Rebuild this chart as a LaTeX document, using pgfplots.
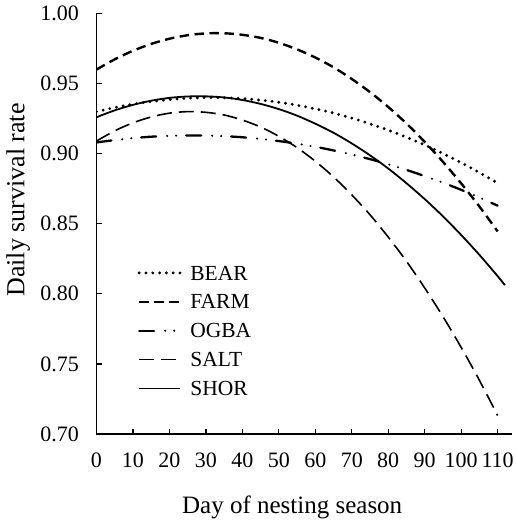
\documentclass[border=0pt]{standalone}
\usepackage{fontspec}
\setmainfont{Liberation Serif}
\usepackage{pgfplots}
\pgfplotsset{compat=1.18}
\begin{document}
\begin{tikzpicture}
\begin{axis}[
  scale only axis,
  width=415bp, height=420.5bp,
  xmin=0, xmax=113.8, ymin=0.70, ymax=1.00,
  axis x line*=bottom, axis y line*=left,
  axis line style={-, line width=1.3bp},
  xtick={0,10,...,110},
  ytick={0.70,0.75,0.80,0.85,0.90,0.95,1.00},
  yticklabels={0.70,0.75,0.80,0.85,0.90,0.95,1.00},
  tick align=inside,
  major tick length=5.5bp,
  tick style={line width=1.2bp, black},
  /pgf/number format/assume math mode=true,
  ticklabel style={font=\fontsize{22bp}{26bp}\selectfont, inner sep=0pt},
  xticklabel style={anchor=north, yshift=-19bp},
  yticklabel style={anchor=east, xshift=-17.5bp},
  xlabel={Day of nesting season},
  ylabel={Daily survival rate},
  xlabel style={font=\fontsize{25bp}{30bp}\selectfont, at={(axis description cs:0.4716,-0.1879)}, anchor=base},
  ylabel style={font=\fontsize{26bp}{31bp}\selectfont, at={(axis description cs:-0.1735,0.5565)}, anchor=base},
  legend style={draw=none, fill=none, at={(axis cs:11.26,0.8200)}, anchor=north west,
    inner sep=0pt, outer sep=0pt, column sep=8.6bp, row sep=14.7bp,
    font=\fontsize{21.5bp}{25bp}\selectfont,
    nodes={inner sep=0pt, text height=14.2bp, text depth=0bp}},
  legend cell align=left,
  legend image code/.code={\draw[#1] (0bp,0bp) -- (41bp,0bp);},
]
% BEAR
\addplot[smooth, line width=3.2bp, line cap=round, dash pattern=on 0bp off 6.8bp] coordinates {
  (0,0.9300) (5,0.9329) (10,0.9353) (15,0.9372) (20,0.9386) (25,0.9396) (30,0.9400) (35,0.9399)
  (40,0.9393) (45,0.9382) (50,0.9367) (55,0.9346) (60,0.9320) (65,0.9290) (70,0.9254) (75,0.9213)
  (80,0.9168) (85,0.9117) (90,0.9062) (95,0.9001) (100,0.8936) (105,0.8865) (110,0.8790)
};
\addlegendentry{BEAR}
% FARM
\addplot[smooth, line width=2.4bp, dash pattern=on 9.5bp off 5.5bp] coordinates {
  (0,0.9600) (5,0.9673) (10,0.9734) (15,0.9783) (20,0.9820) (25,0.9845) (30,0.9858) (35,0.9859)
  (40,0.9848) (45,0.9826) (50,0.9791) (55,0.9744) (60,0.9686) (65,0.9616) (70,0.9533) (75,0.9439)
  (80,0.9333) (85,0.9215) (90,0.9084) (95,0.8942) (100,0.8788) (105,0.8623) (110,0.8445)
};
\addlegendentry{FARM}
% OGBA
\addplot[smooth, line width=2.3bp, line cap=round, dash pattern=on 15bp off 11bp on 0bp off 9bp on 0bp off 10bp] coordinates {
  (0,0.9080) (5,0.9097) (10,0.9111) (15,0.9121) (20,0.9127) (25,0.9130) (30,0.9129) (35,0.9125)
  (40,0.9117) (45,0.9105) (50,0.9090) (55,0.9071) (60,0.9049) (65,0.9023) (70,0.8994) (75,0.8961)
  (80,0.8924) (85,0.8884) (90,0.8840) (95,0.8793) (100,0.8742) (105,0.8687) (110,0.8629)
};
\addlegendentry{OGBA}
% SALT
\addplot[smooth, line width=1.6bp, dash pattern=on 15bp off 7bp] coordinates {
  (0,0.9090) (5,0.9163) (10,0.9220) (15,0.9262) (20,0.9289) (25,0.9300) (30,0.9295) (35,0.9276)
  (40,0.9240) (45,0.9190) (50,0.9124) (55,0.9043) (60,0.8946) (65,0.8834) (70,0.8706) (75,0.8564)
  (80,0.8405) (85,0.8232) (90,0.8042) (95,0.7838) (100,0.7618) (105,0.7383) (110,0.7132)
};
\addlegendentry{SALT}
% SHOR
\addplot[smooth, line width=1.8bp] coordinates {
  (0,0.9260) (5,0.9309) (10,0.9348) (15,0.9378) (20,0.9398) (25,0.9408) (30,0.9409) (35,0.9401)
  (40,0.9383) (45,0.9355) (50,0.9318) (55,0.9271) (60,0.9214) (65,0.9149) (70,0.9073) (75,0.8988)
  (80,0.8894) (85,0.8789) (90,0.8676) (95,0.8553) (100,0.8420) (105,0.8278) (110,0.8126) (112,0.8062)
};
\addlegendentry{SHOR}
\end{axis}
\pgfresetboundingbox
\path[use as bounding box] (-96.5bp,-88bp) rectangle (419.5bp,434bp);
\end{tikzpicture}
\end{document}
